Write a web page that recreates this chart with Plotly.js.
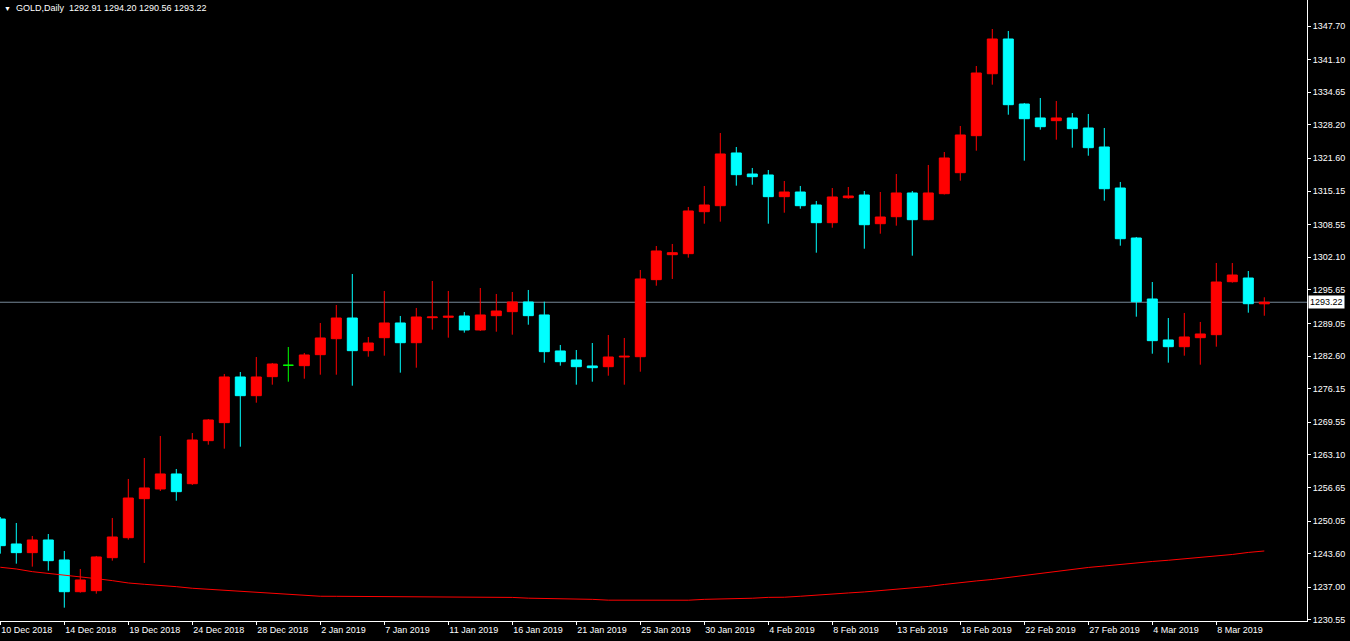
<!DOCTYPE html>
<html><head><meta charset="utf-8">
<script src="https://cdn.plot.ly/plotly-3.0.1.min.js"></script>
<style>html,body{margin:0;padding:0;background:#000;overflow:hidden}</style>
</head><body><div id="chart" style="width:1350px;height:641px"></div>
<script>
const symbol = 'GOLD,Daily';
const openP = [
1250.47,1245.54,1243.83,1246.33,1242.39,1236.13,1236.33,1242.84,1246.78,1254.48,
1256.39,1259.35,1257.43,1265.92,1269.47,1278.48,1274.79,1278.54,1280.79,1280.71,
1282.88,1286.03,1290.11,1283.67,1286.23,1289.13,1285.24,1290.17,1290.25,1290.51,
1287.75,1290.57,1291.36,1293.27,1290.71,1283.61,1281.83,1280.65,1280.51,1282.42,
1282.48,1297.67,1302.60,1302.80,1311.08,1312.26,1322.66,1318.51,1318.32,1314.04,
1314.96,1312.40,1308.91,1313.84,1314.37,1308.71,1310.09,1314.77,1309.50,1314.63,
1318.77,1326.07,1338.29,1345.14,1332.32,1329.56,1329.03,1329.56,1327.59,1323.84,
1315.75,1305.89,1293.86,1285.78,1284.45,1286.23,1286.82,1297.27,1298.00,1292.91];
const highP = [
1250.87,1249.68,1247.12,1247.51,1244.16,1240.61,1243.18,1250.67,1258.36,1262.50,
1266.84,1260.33,1267.43,1270.19,1279.07,1279.46,1282.42,1281.24,1284.39,1283.21,
1289.13,1292.68,1298.79,1286.37,1295.44,1290.51,1292.09,1297.41,1295.44,1291.30,
1296.03,1294.85,1295.24,1295.64,1293.33,1284.79,1283.80,1285.18,1286.76,1286.17,
1299.58,1304.31,1304.71,1312.01,1316.15,1326.60,1323.84,1319.70,1319.30,1317.13,
1316.15,1313.19,1315.75,1315.95,1315.16,1314.96,1318.51,1315.16,1320.29,1322.85,
1327.98,1339.81,1347.11,1346.72,1332.52,1333.50,1332.91,1330.54,1330.35,1327.59,
1316.94,1306.09,1297.21,1290.11,1291.10,1289.33,1300.96,1300.96,1299.38,1294.20];
const lowP = [
1243.63,1241.66,1241.07,1240.28,1232.98,1235.94,1235.74,1242.25,1246.39,1241.80,
1255.99,1254.08,1257.18,1265.13,1264.34,1264.73,1273.41,1276.96,1277.55,1278.14,
1278.93,1278.93,1276.76,1282.48,1282.68,1279.33,1280.31,1287.81,1286.23,1287.22,
1287.55,1287.41,1286.82,1288.79,1281.30,1280.71,1276.96,1277.55,1278.73,1276.96,
1279.52,1296.48,1297.81,1302.01,1308.71,1309.11,1316.21,1316.40,1308.71,1310.88,
1311.67,1302.99,1307.92,1313.64,1303.78,1306.74,1308.32,1302.40,1309.40,1314.47,
1317.19,1323.11,1336.13,1330.21,1321.14,1327.25,1325.28,1323.70,1322.12,1313.25,
1304.37,1290.37,1283.07,1281.30,1282.68,1280.90,1284.45,1297.08,1291.16,1290.56];
const closeP = [
1245.21,1243.83,1246.33,1242.25,1236.13,1238.44,1242.98,1246.92,1254.61,1256.59,
1259.35,1255.86,1266.05,1270.00,1278.48,1274.79,1278.48,1281.04,1280.79,1282.82,
1286.17,1290.11,1283.67,1285.18,1289.13,1285.24,1290.31,1290.31,1290.45,1287.75,
1290.71,1291.49,1293.27,1290.57,1283.47,1281.50,1280.51,1280.31,1282.42,1282.56,
1297.81,1303.33,1302.99,1311.22,1312.40,1322.46,1318.38,1317.98,1314.04,1314.96,
1312.26,1308.91,1313.98,1314.17,1308.51,1310.03,1314.77,1309.50,1314.77,1321.67,
1326.21,1338.43,1345.14,1332.18,1329.42,1327.84,1329.56,1327.45,1323.70,1315.61,
1305.75,1293.33,1285.64,1284.45,1286.37,1286.96,1297.21,1298.59,1292.93,1293.22];
const maP = [
1240.95,1240.61,1240.08,1239.76,1239.43,1239.03,1238.70,1238.31,1237.85,1237.59,
1237.40,1237.12,1236.81,1236.61,1236.37,1236.17,1235.98,1235.78,1235.58,1235.39,
1235.23,1235.22,1235.21,1235.20,1235.19,1235.18,1235.17,1235.16,1235.14,1235.05,
1235.03,1235.01,1235.00,1234.85,1234.83,1234.66,1234.64,1234.62,1234.46,1234.44,
1234.43,1234.42,1234.43,1234.45,1234.62,1234.65,1234.81,1234.84,1235.01,1235.04,
1235.23,1235.48,1235.68,1235.88,1236.08,1236.37,1236.57,1236.81,1237.16,1237.56,
1237.95,1238.25,1238.54,1238.94,1239.33,1239.82,1240.22,1240.51,1240.91,1241.20,
1241.54,1241.80,1242.09,1242.33,1242.58,1242.88,1243.18,1243.47,1243.87,1244.16];
const dateTickIndex = [0,4,8,12,16,20,24,28,32,36,40,44,48,52,56,60,64,68,72,76];
const dateTickLabels = ['10 Dec 2018','14 Dec 2018','19 Dec 2018','24 Dec 2018','28 Dec 2018',
 '2 Jan 2019','7 Jan 2019','11 Jan 2019','16 Jan 2019','21 Jan 2019','25 Jan 2019',
 '30 Jan 2019','4 Feb 2019','8 Feb 2019','13 Feb 2019','18 Feb 2019','22 Feb 2019',
 '27 Feb 2019','4 Mar 2019','8 Mar 2019'];
const priceTicks = [1347.70,1341.10,1334.65,1328.20,1321.60,1315.15,1308.55,1302.10,1295.65,
 1289.05,1282.60,1276.15,1269.55,1263.10,1256.65,1250.05,1243.60,1237.00,1230.55];

const FONT = 'Liberation Sans, Arial, sans-serif';
const idx = openP.map((_, i) => i);
const bodyIdx = idx.filter(i => openP[i] !== closeP[i]);
const dojiIdx = idx.filter(i => openP[i] === closeP[i]);
const pick = (arr, ids) => ids.map(i => arr[i]);
const last = idx.length - 1;

const traces = [
  {type:'candlestick', x: bodyIdx, open: pick(openP, bodyIdx), high: pick(highP, bodyIdx),
   low: pick(lowP, bodyIdx), close: pick(closeP, bodyIdx), whiskerwidth: 0, hoverinfo:'skip',
   increasing:{line:{color:'#ff0000', width:1}, fillcolor:'#ff0000'},
   decreasing:{line:{color:'#00ffff', width:1}, fillcolor:'#00ffff'}},
  {type:'candlestick', x: dojiIdx, open: pick(openP, dojiIdx), high: pick(highP, dojiIdx),
   low: pick(lowP, dojiIdx), close: pick(closeP, dojiIdx), whiskerwidth: 0, hoverinfo:'skip',
   increasing:{line:{color:'#00ff00', width:1}, fillcolor:'#00ff00'},
   decreasing:{line:{color:'#00ff00', width:1}, fillcolor:'#00ff00'}},
  {type:'scatter', mode:'lines', x: idx, y: maP, line:{color:'#ff0000', width:1}, hoverinfo:'skip'}
];

const layout = {
  width:1350, height:641,
  paper_bgcolor:'#000000', plot_bgcolor:'#000000',
  margin:{l:0, r:43, t:0, b:20, pad:0},
  showlegend:false, hovermode:false,
  boxgap:0.375, boxgroupgap:0,
  font:{family:FONT, size:9, color:'#ffffff'},
  xaxis:{type:'linear', range:[-0.3/16, 1306.7/16], rangeslider:{visible:false},
    showgrid:false, zeroline:false, showline:true, linecolor:'#ffffff', linewidth:1,
    ticks:'outside', ticklen:3, tickcolor:'#ffffff', tickwidth:1,
    tickvals: dateTickIndex, ticktext: dateTickLabels, ticklabelposition:'outside right',
    tickfont:{family:FONT, size:9, color:'#ffffff'}, fixedrange:true},
  yaxis:{side:'right', range:[1230.35, 1352.83], showgrid:false, zeroline:false,
    showline:true, linecolor:'#ffffff', linewidth:1,
    ticks:'outside', ticklen:3, tickcolor:'#ffffff', tickwidth:1,
    tickvals: priceTicks, ticktext: priceTicks.map(v => v.toFixed(2)),
    tickfont:{family:FONT, size:9, color:'#ffffff'}, fixedrange:true},
  shapes:[{type:'line', xref:'paper', x0:0, x1:1, yref:'y', y0:closeP[last], y1:closeP[last],
    line:{color:'#778899', width:1}, layer:'below'}],
  annotations:[
    {xref:'paper', yref:'y', x:1, y:closeP[last], xanchor:'left', yanchor:'middle',
     text: closeP[last].toFixed(2), showarrow:false, bgcolor:'#ffffff', borderpad:1, xshift:1,
     font:{family:FONT, size:9, color:'#000000'}},
    {xref:'paper', yref:'paper', x:0, y:1, xanchor:'left', yanchor:'top', showarrow:false,
     xshift:2, yshift:-1,
     text:'<span style="font-size:7px">▼</span>  ' + symbol + '  ' +
       [openP[last], highP[last], lowP[last], closeP[last]].map(v => v.toFixed(2)).join(' '),
     font:{family:FONT, size:9, color:'#ffffff'}}
  ]
};

Plotly.newPlot('chart', traces, layout, {displayModeBar:false, staticPlot:true});
</script></body></html>
